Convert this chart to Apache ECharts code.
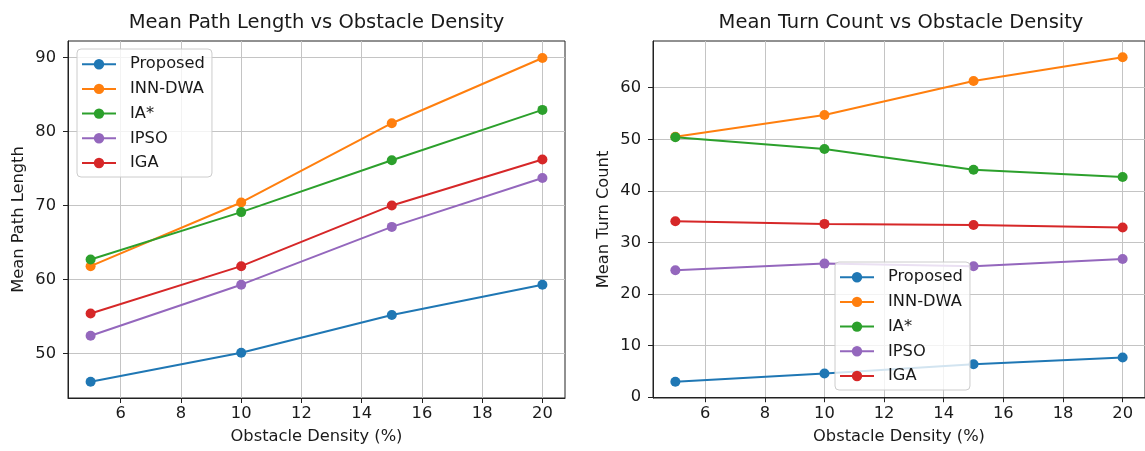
<!DOCTYPE html>
<html>
<head>
<meta charset="utf-8">
<style>
  html, body { margin: 0; padding: 0; background: #fff; }
  #chart { width: 1145px; height: 451px; }
</style>
<script src="https://cdn.jsdelivr.net/npm/echarts@6/dist/echarts.min.js"></script>
</head>
<body>
<div id="chart"></div>
<script>
// obstacle density (%) on the x axis
const densities = [5, 10, 15, 20];
const methodNames = ['Proposed', 'INN-DWA', 'IA*', 'IPSO', 'IGA'];

// mean path length
const pathProposed = [46.2, 50.1, 55.2, 59.3];
const pathInnDwa = [61.8, 70.4, 81.1, 89.9];
const pathIaStar = [62.7, 69.1, 76.1, 82.9];
const pathIpso = [52.4, 59.3, 67.1, 73.7];
const pathIga = [55.4, 61.8, 70.0, 76.2];

// mean turn count
const turnProposed = [3.0, 4.6, 6.4, 7.7];
const turnInnDwa = [50.5, 54.7, 61.3, 65.9];
const turnIaStar = [50.4, 48.1, 44.1, 42.7];
const turnIpso = [24.6, 25.9, 25.4, 26.8];
const turnIga = [34.1, 33.6, 33.4, 32.9];

// tick labels
const xTicks = [6, 8, 10, 12, 14, 16, 18, 20];
const pathTicks = [50, 60, 70, 80, 90];
const turnTicks = [0, 10, 20, 30, 40, 50, 60];

const colors = ['#1f77b4', '#ff7f0e', '#2ca02c', '#9467bd', '#d62728'];
const FONT = 'DejaVu Sans';
const FS = 16.3;
const textColor = '#1a1a1a';

const pathData = [pathProposed, pathInnDwa, pathIaStar, pathIpso, pathIga];
const turnData = [turnProposed, turnInnDwa, turnIaStar, turnIpso, turnIga];

function pairs(vals) {
  return densities.map((d, i) => [d, vals[i]]);
}

function xAxis(gridIndex) {
  return {
    type: 'value',
    gridIndex: gridIndex,
    min: 4.25,
    max: 20.75,
    name: 'Obstacle Density (%)',
    nameLocation: 'middle',
    nameGap: 31,
    nameTextStyle: { fontFamily: FONT, fontSize: FS, color: textColor },
    axisLine: { show: true, lineStyle: { color: '#222', width: 1 } },
    axisTick: { show: true, length: 5, customValues: xTicks, lineStyle: { color: '#222' } },
    axisLabel: { customValues: xTicks, margin: 8, fontFamily: FONT, fontSize: FS, color: textColor },
    splitLine: { show: true, lineStyle: { color: '#c4c4c4', width: 1 } },
  };
}

function yAxis(gridIndex, min, max, ticks, name) {
  return {
    type: 'value',
    gridIndex: gridIndex,
    min: min,
    max: max,
    name: name,
    nameLocation: 'middle',
    nameGap: 41,
    nameTextStyle: { fontFamily: FONT, fontSize: FS, color: textColor },
    axisLine: { show: true, lineStyle: { color: '#222', width: 1 } },
    axisTick: { show: true, length: 5, customValues: ticks, lineStyle: { color: '#222' } },
    axisLabel: { customValues: ticks, margin: 12, fontFamily: FONT, fontSize: FS, color: textColor },
    splitLine: { show: true, lineStyle: { color: '#c4c4c4', width: 1 } },
  };
}

function legend(left, top) {
  return {
    orient: 'vertical',
    left: left,
    top: top,
    data: methodNames,
    itemWidth: 34,
    itemHeight: 13,
    itemGap: 8.7,
    padding: [7.2, 7, 6, 4],
    backgroundColor: 'rgba(255,255,255,0.8)',
    borderColor: '#cccccc',
    borderWidth: 1,
    borderRadius: 4,
    textStyle: { fontFamily: FONT, fontSize: FS, lineHeight: 16, color: textColor, padding: [0, 0, 0, 9] },
  };
}

const series = [];
methodNames.forEach((name, i) => {
  series.push({
    name: name,
    type: 'line',
    xAxisIndex: 0,
    yAxisIndex: 0,
    data: pairs(pathData[i]),
    symbol: 'circle',
    symbolSize: 10,
    lineStyle: { width: 2, color: colors[i] },
    itemStyle: { color: colors[i] },
    animation: false,
  });
});
methodNames.forEach((name, i) => {
  series.push({
    name: name,
    type: 'line',
    xAxisIndex: 1,
    yAxisIndex: 1,
    data: pairs(turnData[i]),
    symbol: 'circle',
    symbolSize: 10,
    lineStyle: { width: 2, color: colors[i] },
    itemStyle: { color: colors[i] },
    animation: false,
  });
});

const chart = echarts.init(document.getElementById('chart'));
chart.setOption({
  backgroundColor: '#fff',
  animation: false,
  color: colors,
  graphic: [
    {
      type: 'text', x: 316.5, y: 23,
      style: { text: 'Mean Path Length vs Obstacle Density', fontFamily: FONT, fontSize: 19.5, fill: textColor, textAlign: 'center', textVerticalAlign: 'middle' },
    },
    {
      type: 'text', x: 901, y: 23,
      style: { text: 'Mean Turn Count vs Obstacle Density', fontFamily: FONT, fontSize: 19.5, fill: textColor, textAlign: 'center', textVerticalAlign: 'middle' },
    },
  ],
  grid: [
    { left: 68, top: 41, width: 497, height: 357, show: true, borderColor: '#222', borderWidth: 1, backgroundColor: 'transparent' },
    { left: 653, top: 41, width: 497, height: 357, show: true, borderColor: '#222', borderWidth: 1, backgroundColor: 'transparent' },
  ],
  xAxis: [xAxis(0), xAxis(1)],
  yAxis: [
    yAxis(0, 44.0, 92.2, pathTicks, 'Mean Path Length'),
    yAxis(1, -0.15, 69.05, turnTicks, 'Mean Turn Count'),
  ],
  legend: [legend(77, 49), legend(835, 262)],
  series: series,
});
</script>
</body>
</html>
